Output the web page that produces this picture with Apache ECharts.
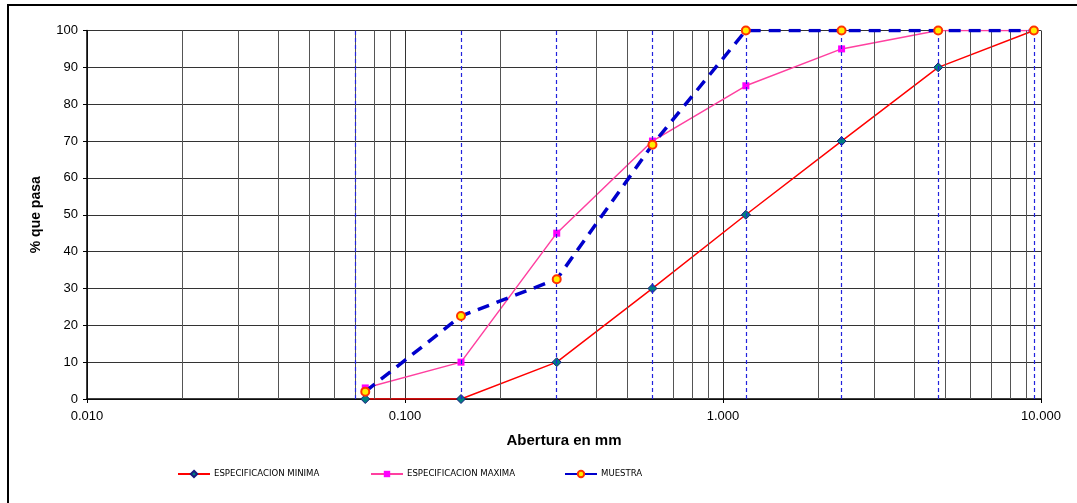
<!DOCTYPE html>
<html>
<head>
<meta charset="utf-8">
<script src="https://cdn.jsdelivr.net/npm/echarts@6/dist/echarts.min.js"></script>
<style>
  html, body { margin: 0; padding: 0; background: #fff; }
  #chart { width: 1077px; height: 503px; }
</style>
</head>
<body>
<div id="chart"></div>
<script>
// tamices (mm) y porcentajes que pasan
const sieves = [0.075, 0.15, 0.3, 0.6, 1.18, 2.36, 4.75, 9.5];
const minima = [0, 0, 10, 30, 50, 70, 90, 100];
const maxima = [3, 10, 45, 70, 85, 95, 100, 100];
const muestra = [2, 22.5, 32.5, 69, 100, 100, 100, 100];
// lineas de grilla menores del eje logaritmico
const minorGrid = [0.02, 0.03, 0.04, 0.05, 0.06, 0.07, 0.08, 0.09,
                   0.2, 0.3, 0.4, 0.5, 0.6, 0.7, 0.8, 0.9,
                   2, 3, 4, 5, 6, 7, 8, 9];

const chart = echarts.init(document.getElementById("chart"));
const font = "'Liberation Sans', Arial, sans-serif";
const narrow = "'Liberation Sans Narrow', 'Arial Narrow', 'DejaVu Sans Condensed', sans-serif";

function pairs(ys) {
  return sieves.map((x, i) => [x, ys[i]]);
}

// las lineas de tamiz tapan la grilla donde coinciden
const visibleMinor = minorGrid.filter(v => sieves.indexOf(v) < 0);

const legendBase = {
  top: 469, itemWidth: 32, itemHeight: 8, itemGap: 4, padding: 0,
  textStyle: { fontFamily: narrow, fontSize: 9.5, color: "#000", padding: [0, 0, 0, -1] }
};

const option = {
  animation: false,
  backgroundColor: "#fff",
  graphic: [{
    type: "rect", silent: true, z: -10,
    shape: { x: 8, y: 5, width: 1100, height: 520 },
    style: { fill: "none", stroke: "#000", lineWidth: 2 }
  }],
  legend: [
    Object.assign({ left: 177, data: ["ESPECIFICACION MINIMA"] }, legendBase),
    Object.assign({ left: 370, data: ["ESPECIFICACION MAXIMA"] }, legendBase),
    Object.assign({ left: 564, data: ["MUESTRA"] }, legendBase)
  ],
  grid: { left: 87, top: 30.5, right: 36, bottom: 104 },
  xAxis: {
    type: "log", logBase: 10, min: 0.01, max: 10,
    name: "Abertura en mm", nameLocation: "middle", nameGap: 34,
    nameTextStyle: { fontFamily: font, fontSize: 15, fontWeight: "bold", color: "#000" },
    axisLine: { lineStyle: { color: "#000", width: 1.5 } },
    axisTick: { show: true, length: 4, lineStyle: { color: "#000" } },
    axisLabel: { fontFamily: font, fontSize: 13, color: "#000", margin: 11,
      formatter: v => Number(v).toFixed(3) },
    splitLine: { show: true, lineStyle: { color: "#333", width: 1 } }
  },
  yAxis: {
    type: "value", min: 0, max: 100, interval: 10,
    name: "% que pasa", nameLocation: "middle", nameGap: 44,
    nameTextStyle: { fontFamily: font, fontSize: 14, fontWeight: "bold", color: "#000" },
    axisLine: { show: true, lineStyle: { color: "#000", width: 1.5 } },
    axisTick: { show: true, length: 4, lineStyle: { color: "#000" } },
    axisLabel: { fontFamily: font, fontSize: 13, color: "#000", margin: 9 },
    splitLine: { show: true, lineStyle: { color: "#333", width: 1 } }
  },
  series: [
    {
      // grilla menor
      name: "grid", type: "line", data: [], silent: true, z: 1,
      markLine: {
        silent: true, symbol: "none", label: { show: false }, animation: false,
        lineStyle: { color: "#555", width: 1, type: "solid" },
        emphasis: { disabled: true },
        data: visibleMinor.map(v => ({ xAxis: v, lineStyle: { color: "#555" } }))
      }
    },
    {
      // lineas de tamices
      name: "sieves", type: "line", data: [], silent: true, z: 2,
      markLine: {
        silent: true, symbol: "none", label: { show: false }, animation: false,
        lineStyle: { color: "#2222dd", width: 1.2, type: [4, 3] },
        emphasis: { disabled: true },
        data: sieves.map(v => ({ xAxis: v }))
      }
    },
    {
      name: "ESPECIFICACION MINIMA", type: "line", z: 3,
      data: pairs(minima),
      lineStyle: { color: "#ff0000", width: 1.5 },
      symbol: "diamond", symbolSize: 9,
      itemStyle: { color: "#008080", borderColor: "#1a1a80", borderWidth: 1 }
    },
    {
      name: "ESPECIFICACION MAXIMA", type: "line", z: 4,
      data: pairs(maxima),
      lineStyle: { color: "#ff40a0", width: 1.5 },
      symbol: "rect", symbolSize: 7,
      itemStyle: { color: "#ff00ff", borderColor: "#ff00ff", borderWidth: 0 }
    },
    {
      name: "MUESTRA", type: "line", z: 5,
      data: pairs(muestra),
      lineStyle: { color: "#0000cc", width: 3.5, type: [12, 8] },
      symbol: "circle", symbolSize: 8,
      itemStyle: { color: "#ffee00", borderColor: "#ff3300", borderWidth: 2 }
    }
  ]
};

chart.setOption(option);
window.addEventListener("resize", () => chart.resize());
</script>
</body>
</html>
